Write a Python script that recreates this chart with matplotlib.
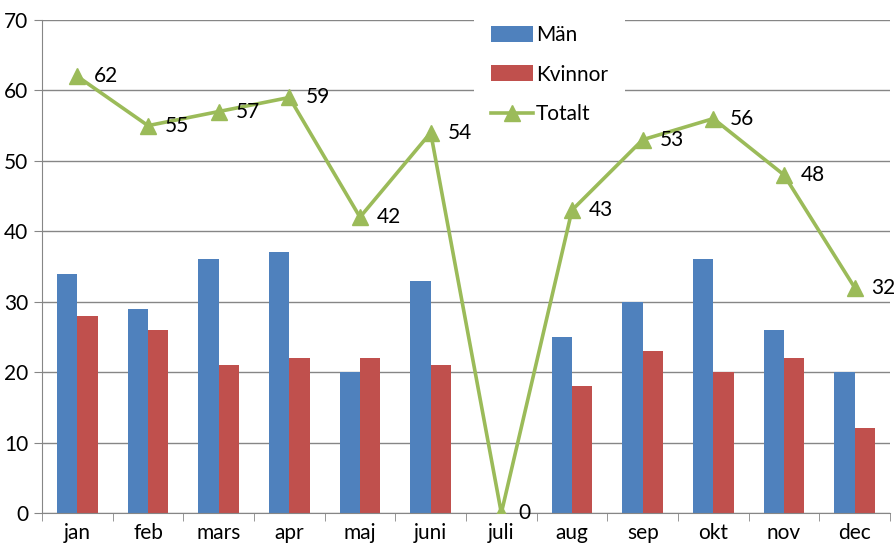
import matplotlib as mpl
mpl.use('Agg')
import matplotlib.pyplot as plt
import numpy as np

manader = ["jan", "feb", "mars", "apr", "maj", "juni", "juli", "aug", "sep", "okt", "nov", "dec"]
man = [34, 29, 36, 37, 20, 33, 0, 25, 30, 36, 26, 20]
kvinnor = [28, 26, 21, 22, 22, 21, 0, 18, 23, 20, 22, 12]
totalt = [62, 55, 57, 59, 42, 54, 0, 43, 53, 56, 48, 32]

fs = 15
plt.rcParams['font.family'] = ['Lato', 'DejaVu Sans']
plt.rcParams['font.size'] = fs

gra = '#868686'
fig = plt.figure(figsize=(8.95, 5.45), dpi=100)
ax = fig.add_axes([42 / 895, 32 / 545, 848 / 895, 493 / 545])

x = np.arange(len(manader))
b = 0.29
h1 = ax.bar(x - b / 2, man, width=b, color='#4F81BD', label='Män', zorder=2)
h2 = ax.bar(x + b / 2, kvinnor, width=b, color='#C0504D', label='Kvinnor', zorder=2)
h3, = ax.plot(x, totalt, color='#9BBB59', lw=2.6, marker='^', ms=11, label='Totalt', zorder=3)

# värdeetiketter till höger om varje punkt på linjen
for xi, v in zip(x, totalt):
    ax.annotate(str(v), (xi, v), xytext=(12, 0), textcoords='offset points',
                va='center', ha='left', fontsize=fs, zorder=4)

ax.set_xlim(-0.5, 11.5)
ax.set_ylim(0, 70)
ax.set_yticks(range(0, 71, 10))
ax.yaxis.grid(True, color=gra, lw=1, zorder=0)
ax.set_xticks(x)
ax.set_xticklabels(manader)
ax.set_xticks(np.arange(-0.5, 12, 1), minor=True)
ax.tick_params(axis='x', which='major', length=0, pad=7)
ax.tick_params(axis='x', which='minor', length=6, color=gra)
ax.tick_params(axis='y', length=6, color=gra, pad=4)

for s in ['top', 'right']:
    ax.spines[s].set_visible(False)
for s in ['left', 'bottom']:
    ax.spines[s].set_color(gra)

leg = ax.legend([h1, h2, h3], ['Män', 'Kvinnor', 'Totalt'],
                loc='upper left', bbox_to_anchor=(422 / 848, 1.045), frameon=True,
                framealpha=1, edgecolor='none', fancybox=False,
                handlelength=2.0, handleheight=0.8, labelspacing=0.95,
                borderpad=0.8, handletextpad=0.15, fontsize=fs)
leg.set_zorder(5)

fig.savefig('out.png', dpi=100)
